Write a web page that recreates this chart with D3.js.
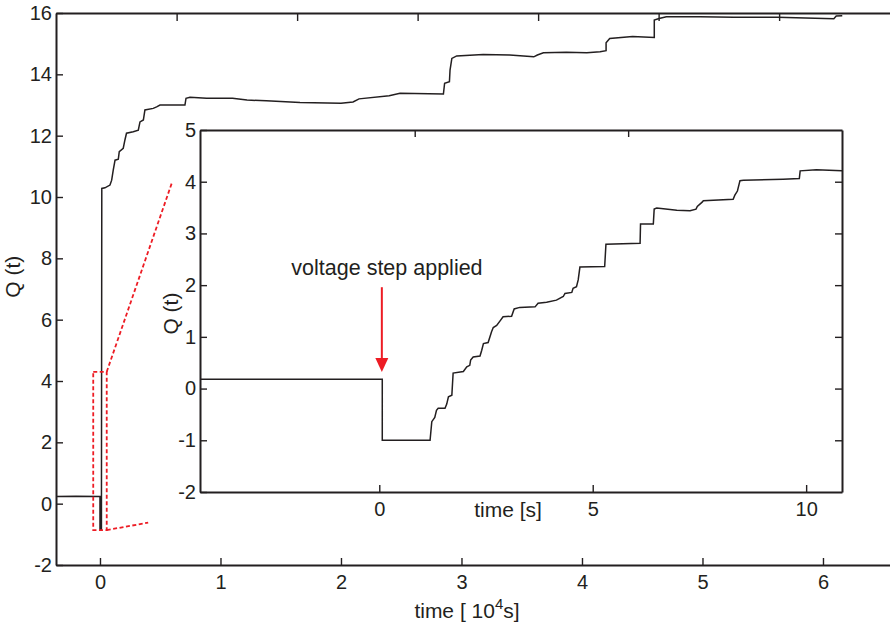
<!DOCTYPE html>
<html>
<head>
<meta charset="utf-8">
<script src="https://cdn.jsdelivr.net/npm/d3@7/dist/d3.min.js"></script>
<style>
  html, body { margin: 0; padding: 0; background: #fff; }
  svg { display: block; font-family: "Liberation Sans", Arial, sans-serif; }
  .axis text { font-size: 20px; fill: #231f20; font-family: "Liberation Sans", Arial, sans-serif; }
  .axis path, .axis line { stroke: #231f20; }
  .lbl { font-size: 21px; fill: #231f20; }
</style>
</head>
<body>
<svg id="chart" width="890" height="629"></svg>
<script>
// ── Data ─────────────────────────────────────────────────────────────────────
// main trace: time [1e4 s], Q(t)
const mainTime = [-0.365, -0.2, 0, 0, 0.012, 0.015, 0.041, 0.083, 0.097, 0.11, 0.125, 0.152, 0.16, 0.193,
  0.207, 0.22, 0.276, 0.318, 0.332, 0.36, 0.373, 0.442, 0.47, 0.498, 0.705, 0.714, 0.747, 0.885, 1.10,
  1.22, 1.38, 1.66, 2.0, 2.1, 2.15, 2.4, 2.49, 2.85, 2.86, 2.90, 2.905, 2.92, 2.96, 3.18, 3.40, 3.60,
  3.63, 3.68, 3.87, 4.04, 4.15, 4.20, 4.20, 4.23, 4.42, 4.60, 4.60, 4.64, 4.70, 4.98, 5.26, 5.62, 6.09,
  6.11, 6.16];
const mainQ = [0.23, 0.24, 0.23, -0.85, -0.85, 10.28, 10.3, 10.39, 10.55, 10.88, 11.2, 11.23, 11.48, 11.59,
  11.86, 12.08, 12.13, 12.18, 12.45, 12.51, 12.84, 12.89, 12.94, 13.0, 13.0, 13.22, 13.25, 13.22, 13.22,
  13.16, 13.14, 13.08, 13.06, 13.1, 13.2, 13.3, 13.38, 13.36, 13.71, 13.76, 14.14, 14.52, 14.60, 14.65,
  14.63, 14.57, 14.63, 14.70, 14.72, 14.70, 14.74, 14.77, 15.03, 15.17, 15.23, 15.20, 15.77, 15.82,
  15.88, 15.88, 15.86, 15.86, 15.81, 15.90, 15.91];

// inset trace: time [s], Q(t)
const insetTime = [-4.2, 0.07, 0.07, 1.19, 1.23, 1.30, 1.34, 1.38, 1.54, 1.58, 1.62, 1.70, 1.73, 1.97, 2.05,
  2.12, 2.14, 2.20, 2.36, 2.40, 2.44, 2.55, 2.63, 2.67, 2.75, 2.83, 2.90, 3.10, 3.16, 3.29, 3.65, 3.72,
  3.92, 4.15, 4.31, 4.35, 4.51, 4.54, 4.62, 4.66, 4.70, 5.28, 5.31, 6.11, 6.12, 6.42, 6.44, 6.50, 6.97,
  7.28, 7.42, 7.45, 7.57, 7.59, 8.29, 8.33, 8.39, 8.45, 8.53, 9.46, 9.84, 9.86, 10.24, 10.84];
const insetQ = [0.18, 0.18, -1.0, -1.0, -0.64, -0.56, -0.42, -0.38, -0.38, -0.30, -0.16, -0.13, 0.30, 0.33,
  0.42, 0.45, 0.55, 0.61, 0.63, 0.74, 0.87, 0.89, 1.10, 1.18, 1.22, 1.31, 1.39, 1.40, 1.54, 1.57, 1.58,
  1.65, 1.67, 1.71, 1.78, 1.84, 1.86, 1.94, 1.97, 2.10, 2.35, 2.36, 2.79, 2.81, 3.18, 3.18, 3.47, 3.49,
  3.45, 3.44, 3.47, 3.52, 3.61, 3.63, 3.66, 3.74, 3.82, 4.02, 4.03, 4.05, 4.06, 4.21, 4.23, 4.21];

const mainXTicks  = [0, 1, 2, 3, 4, 5, 6];
const mainYTicks  = [-2, 0, 2, 4, 6, 8, 10, 12, 14, 16];
const mainTopTicks = [0.636, 1.636, 2.636, 3.636, 4.636, 5.636];
const insetXTicks = [0, 5, 10];
const insetYTicks = [-2, -1, 0, 1, 2, 3, 4, 5];
const insetTopTicks = [0.83, 5.83];

// zoom marker (main-axes units): rectangle corners + two connector lines
const zoomBoxT = [-0.056, 0.056];
const zoomBoxQ = [-0.86, 4.3];
const connectT = [0.6, 0.4];
const connectQ = [10.5, -0.62];

// annotation (inset units)
const arrowT = 0.06, arrowQ = [1.96, 0.32];
const noteT = 0.18, noteQ = 2.2;

// ── Layout ───────────────────────────────────────────────────────────────────
const INK = "#231f20", RED = "#ed1c24";
const svg = d3.select("#chart");
const plain = d => String(d);   // hyphen minus, no decimals

const x = d3.scaleLinear().domain([-0.365, 7]).range([56, 56 + 7.365 * 120.5]);
const y = d3.scaleLinear().domain([-2, 16]).range([565, 13]);

const xi = d3.scaleLinear().domain([-4.2, 10.84]).range([200, 842]);
const yi = d3.scaleLinear().domain([-2, 5]).range([492, 130]);

function styleAxis(g) {
  g.attr("class", "axis").attr("font-family", null).attr("font-size", null);
  g.select(".domain").attr("stroke-width", 2);
  g.selectAll(".tick line").attr("stroke-width", 1.4);
}

// ── Main axes ────────────────────────────────────────────────────────────────
svg.append("g").attr("transform", `translate(0,${y(16)})`)
  .call(d3.axisTop(x).tickValues(mainTopTicks).tickFormat("").tickSize(-8).tickSizeOuter(0))
  .call(styleAxis);
svg.append("g").attr("transform", `translate(0,${y(-2)})`)
  .call(d3.axisBottom(x).tickValues(mainXTicks).tickFormat(plain).tickSize(-7).tickSizeOuter(0).tickPadding(10))
  .call(styleAxis);
svg.append("g").attr("transform", `translate(${x.range()[0]},0)`)
  .call(d3.axisLeft(y).tickValues(mainYTicks).tickFormat(plain).tickSize(-7).tickSizeOuter(0).tickPadding(4))
  .call(styleAxis);

const mainLine = d3.line().x(d => x(d[0])).y(d => y(d[1]));
svg.append("path")
  .datum(d3.zip(mainTime, mainQ))
  .attr("fill", "none").attr("stroke", INK).attr("stroke-width", 1.5)
  .attr("d", mainLine);

// zoom marker
const dash = "4,2.5";
svg.append("rect")
  .attr("x", x(zoomBoxT[0])).attr("y", y(zoomBoxQ[1]))
  .attr("width", x(zoomBoxT[1]) - x(zoomBoxT[0]))
  .attr("height", y(zoomBoxQ[0]) - y(zoomBoxQ[1]))
  .attr("fill", "none").attr("stroke", RED).attr("stroke-width", 1.8)
  .attr("stroke-dasharray", dash);
[[zoomBoxQ[1], 0], [zoomBoxQ[0], 1]].forEach(([q, i]) => {
  svg.append("line")
    .attr("x1", x(zoomBoxT[1])).attr("y1", y(q))
    .attr("x2", x(connectT[i])).attr("y2", y(connectQ[i]))
    .attr("stroke", RED).attr("stroke-width", 1.8).attr("stroke-dasharray", dash);
});

// main labels
svg.append("text").attr("class", "lbl")
  .attr("transform", `translate(20,${y(7.4)}) rotate(-90)`)
  .attr("text-anchor", "middle")
  .text("Q (t)");
const xl = svg.append("text").attr("class", "lbl")
  .attr("x", 467).attr("y", 618).attr("text-anchor", "middle");
xl.append("tspan").text("time [ 10");
xl.append("tspan").attr("dy", -9).attr("font-size", "15px").text("4");
xl.append("tspan").attr("dy", 9).text("s]");

// ── Inset ────────────────────────────────────────────────────────────────────
svg.append("rect")
  .attr("x", xi.range()[0]).attr("y", yi.range()[1])
  .attr("width", xi.range()[1] - xi.range()[0])
  .attr("height", yi.range()[0] - yi.range()[1])
  .attr("fill", "#fff");

svg.append("g").attr("transform", `translate(0,${yi(5)})`)
  .call(d3.axisTop(xi).tickValues(insetTopTicks).tickFormat("").tickSize(-7).tickSizeOuter(0))
  .call(styleAxis);
svg.append("g").attr("transform", `translate(0,${yi(-2)})`)
  .call(d3.axisBottom(xi).tickValues(insetXTicks).tickFormat(plain).tickSize(-7).tickSizeOuter(0).tickPadding(10))
  .call(styleAxis);
svg.append("g").attr("transform", `translate(${xi.range()[0]},0)`)
  .call(d3.axisLeft(yi).tickValues(insetYTicks).tickFormat(plain).tickSize(-7).tickSizeOuter(0).tickPadding(4))
  .call(styleAxis);
svg.append("g").attr("transform", `translate(${xi.range()[1]},0)`)
  .call(d3.axisRight(yi).tickValues(insetYTicks.slice(1, -1)).tickFormat("").tickSize(-7).tickSizeOuter(0))
  .call(styleAxis);

const insetLine = d3.line().x(d => xi(d[0])).y(d => yi(d[1]));
svg.append("path")
  .datum(d3.zip(insetTime, insetQ))
  .attr("fill", "none").attr("stroke", INK).attr("stroke-width", 1.5)
  .attr("d", insetLine);

// arrow + note
const ax = xi(arrowT), ay0 = yi(arrowQ[0]), ay1 = yi(arrowQ[1]);
svg.append("line")
  .attr("x1", ax).attr("y1", ay0).attr("x2", ax).attr("y2", ay1 - 12)
  .attr("stroke", RED).attr("stroke-width", 2);
svg.append("path")
  .attr("d", `M${ax - 6.5},${ay1 - 14}L${ax + 6.5},${ay1 - 14}L${ax},${ay1}Z`)
  .attr("fill", RED);
svg.append("text").attr("class", "lbl")
  .attr("x", xi(noteT)).attr("y", yi(noteQ)).attr("text-anchor", "middle")
  .style("font-size", "21.5px")
  .text("voltage step applied");

svg.append("text").attr("class", "lbl")
  .attr("transform", `translate(178,${yi(1.45)}) rotate(-90)`)
  .attr("text-anchor", "middle")
  .text("Q (t)");
svg.append("text").attr("class", "lbl")
  .attr("x", 508).attr("y", 517).attr("text-anchor", "middle")
  .text("time [s]");
</script>
</body>
</html>
